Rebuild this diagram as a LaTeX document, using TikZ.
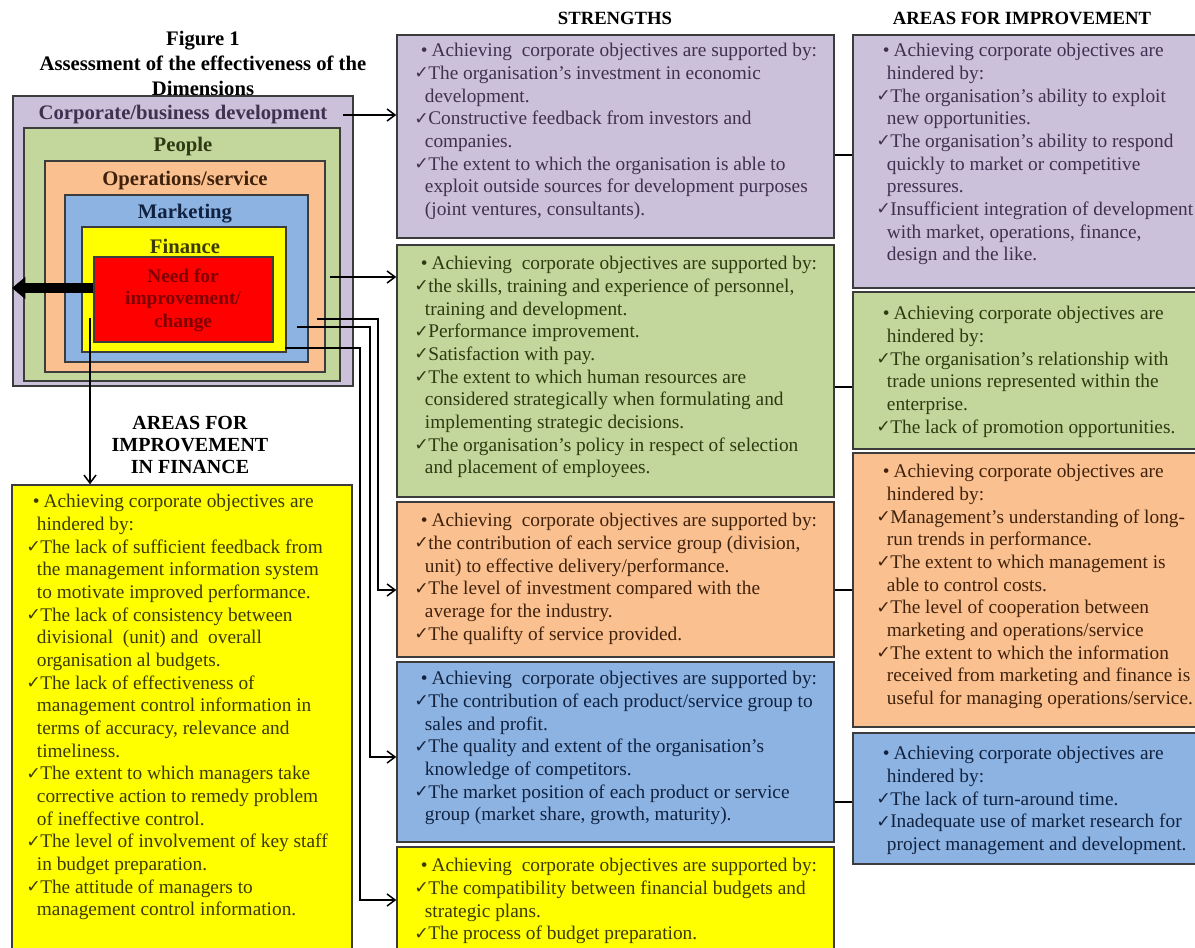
\documentclass[tikz,border=0pt]{standalone}
\usepackage{fontspec}
\setmainfont{Liberation Serif}
\newfontfamily\symfont{DejaVu Sans}
\usepackage{xcolor}
\usetikzlibrary{arrows.meta,fit}

\definecolor{edge}{HTML}{3C3C3C}
\definecolor{lavfill}{HTML}{CCC1DA}
\definecolor{grnfill}{HTML}{C3D69B}
\definecolor{orgfill}{HTML}{FAC090}
\definecolor{blufill}{HTML}{8DB3E2}
\definecolor{yelfill}{HTML}{FFFF00}
\definecolor{redfill}{HTML}{FF0000}
\definecolor{lavtext}{HTML}{3F3151}
\definecolor{grntext}{HTML}{2E3A12}
\definecolor{orgtext}{HTML}{40220C}
\definecolor{blutext}{HTML}{112240}
\definecolor{yeltext}{HTML}{3B3B00}
\definecolor{redtext}{HTML}{7F0000}

\newcommand{\bul}{\hspace*{5pt}\makebox[8pt][l]{•}}
\newcommand{\chk}{\makebox[10.5pt][l]{\raisebox{0.5pt}{\symfont\fontsize{13}{13}\selectfont ✓}}}
\newcommand{\cnt}{\hspace*{8pt}}

\begin{document}
\begin{tikzpicture}[x=0.75pt, y=-0.75pt,
  box/.style={draw=edge, line width=1.1pt, inner sep=0pt},
  body/.style={anchor=north west, inner sep=0pt, align=left, font=\fontsize{14.5}{17}\selectfont},
  lbl/.style={inner sep=0pt, font=\bfseries\fontsize{15.5}{18}\selectfont},
  hdr/.style={inner sep=0pt, align=center, font=\bfseries\fontsize{14}{16}\selectfont},
  arr/.style={-{Straight Barb[length=6pt,width=9pt]}, line width=1.1pt},
  link/.style={line width=1.1pt},
  fat/.style={-{Triangle[length=10pt,width=16pt]}, line width=8pt}]

\clip (0,0) rectangle (1195,948);

\node[hdr, font=\bfseries\fontsize{15.5}{18.75}\selectfont] (title) at (203,63) {Figure 1\\Assessment of the effectiveness of the\\Dimensions};
\node[hdr] (hstr) at (615,18) {STRENGTHS};
\node[hdr] (himp) at (1022,18) {AREAS FOR IMPROVEMENT};

\node[box, fill=lavfill, fit={(13,96) (353,386)}] (corp) {};
\node[box, fill=grnfill, fit={(24,128) (340,381)}] (peop) {};
\node[box, fill=orgfill, fit={(45,161) (325,372)}] (oper) {};
\node[box, fill=blufill, fit={(65,195) (308,362)}] (mark) {};
\node[box, fill=yelfill, fit={(82,227) (286,352)}] (fin) {};
\node[box, fill=redfill, fit={(94,257) (273,342)}] (need) {};

\node[lbl, text=lavtext] (corpL) at (183,115) {Corporate/business development};
\node[lbl, text=grntext] (peopL) at (183,147) {People};
\node[lbl, text=orgtext] (operL) at (185,181) {Operations/service};
\node[lbl, text=blutext] (markL) at (185,214) {Marketing};
\node[lbl, text=yeltext] (finL) at (185,246) {Finance};
\node[hdr, text=redtext, font=\bfseries\fontsize{14.5}{17}\selectfont] (needL) at (183,300) {Need for\\improvement/\\change};

\node[hdr, font=\bfseries\fontsize{15}{16.5}\selectfont] (finH) at (190,445) {AREAS FOR\\IMPROVEMENT\\IN FINANCE};

\node[box, fill=lavfill, fit={(397,35) (834,238)}] (purpS) {};
\node[box, fill=grnfill, fit={(397,245) (834,497)}] (peopS) {};
\node[box, fill=orgfill, fit={(397,502) (834,657)}] (operS) {};
\node[box, fill=blufill, fit={(397,662) (834,842)}] (markS) {};
\node[box, fill=yelfill, fit={(397,847) (834,955)}] (finS) {};

\node[box, fill=lavfill, fit={(853,35) (1202,288)}] (purpA) {};
\node[box, fill=grnfill, fit={(853,292) (1202,449)}] (peopA) {};
\node[box, fill=orgfill, fit={(853,453) (1202,727)}] (operA) {};
\node[box, fill=blufill, fit={(853,733) (1202,864)}] (markA) {};
\node[box, fill=yelfill, fit={(12,485) (352,955)}] (finA) {};

\node[body, text=lavtext] (purpST) at (414,43) {\bul Achieving~ corporate objectives are supported by:\\
\chk The organisation’s investment in economic\\
\cnt development.\\
\chk Constructive feedback from investors and\\
\cnt companies.\\
\chk The extent to which the organisation is able to\\
\cnt exploit outside sources for development purposes\\
\cnt (joint ventures, consultants).};

\node[body, text=lavtext] (purpAT) at (876,43) {\bul Achieving corporate objectives are\\
\cnt hindered by:\\
\chk The organisation’s ability to exploit\\
\cnt new opportunities.\\
\chk The organisation’s ability to respond\\
\cnt quickly to market or competitive\\
\cnt pressures.\\
\chk Insufficient integration of development\\
\cnt with market, operations, finance,\\
\cnt design and the like.};

\node[body, text=grntext] (peopST) at (414,256) {\bul Achieving~ corporate objectives are supported by:\\
\chk the skills, training and experience of personnel,\\
\cnt training and development.\\
\chk Performance improvement.\\
\chk Satisfaction with pay.\\
\chk The extent to which human resources are\\
\cnt considered strategically when formulating and\\
\cnt implementing strategic decisions.\\
\chk The organisation’s policy in respect of selection\\
\cnt and placement of employees.};

\node[body, text=grntext] (peopAT) at (876,306) {\bul Achieving corporate objectives are\\
\cnt hindered by:\\
\chk The organisation’s relationship with\\
\cnt trade unions represented within the\\
\cnt enterprise.\\
\chk The lack of promotion opportunities.};

\node[body, text=orgtext] (operST) at (414,513) {\bul Achieving~ corporate objectives are supported by:\\
\chk the contribution of each service group (division,\\
\cnt unit) to effective delivery/performance.\\
\chk The level of investment compared with the\\
\cnt average for the industry.\\
\chk The qualifty of service provided.};

\node[body, text=orgtext] (operAT) at (876,464) {\bul Achieving corporate objectives are\\
\cnt hindered by:\\
\chk Management’s understanding of long-\\
\cnt run trends in performance.\\
\chk The extent to which management is\\
\cnt able to control costs.\\
\chk The level of cooperation between\\
\cnt marketing and operations/service\\
\chk The extent to which the information\\
\cnt received from marketing and finance is\\
\cnt useful for managing operations/service.};

\node[body, text=blutext] (markST) at (414,671) {\bul Achieving~ corporate objectives are supported by:\\
\chk The contribution of each product/service group to\\
\cnt sales and profit.\\
\chk The quality and extent of the organisation’s\\
\cnt knowledge of competitors.\\
\chk The market position of each product or service\\
\cnt group (market share, growth, maturity).};

\node[body, text=blutext] (markAT) at (876,746) {\bul Achieving corporate objectives are\\
\cnt hindered by:\\
\chk The lack of turn-around time.\\
\chk Inadequate use of market research for\\
\cnt project management and development.};

\node[body, text=yeltext] (finST) at (414,858) {\bul Achieving~ corporate objectives are supported by:\\
\chk The compatibility between financial budgets and\\
\cnt strategic plans.\\
\chk The process of budget preparation.};

\node[body, text=yeltext] (finAT) at (26,494) {\bul Achieving corporate objectives are\\
\cnt hindered by:\\
\chk The lack of sufficient feedback from\\
\cnt the management information system\\
\cnt to motivate improved performance.\\
\chk The lack of consistency between\\
\cnt divisional~ (unit) and~ overall\\
\cnt organisation al budgets.\\
\chk The lack of effectiveness of\\
\cnt management control information in\\
\cnt terms of accuracy, relevance and\\
\cnt timeliness.\\
\chk The extent to which managers take\\
\cnt corrective action to remedy problem\\
\cnt of ineffective control.\\
\chk The level of involvement of key staff\\
\cnt in budget preparation.\\
\chk The attitude of managers to\\
\cnt management control information.};

\coordinate (c1) at (343,115);
\coordinate (p1) at (330,277);
\coordinate (o1) at (317,319);
\coordinate (o2) at (378,590);
\coordinate (m1) at (297,327);
\coordinate (m2) at (370,757);
\coordinate (f1) at (285,348);
\coordinate (f2) at (360,900);
\coordinate (r1) at (90,318);
\coordinate (t1) at (12,288);

\draw[fat] (t1 -| need.west) -- (t1);
\draw[arr] (c1) -- (c1 -| purpS.west);
\draw[arr] (p1) -- (p1 -| peopS.west);
\draw[arr] (o1) -| (o2) -- (o2 -| operS.west);
\draw[arr] (m1) -| (m2) -- (m2 -| markS.west);
\draw[arr] (f1) -| (f2) -- (f2 -| finS.west);
\draw[arr] (r1) -- (r1 |- finA.north);

\draw[link] (purpS.east |- 0,155) -- (purpA.west |- 0,155);
\draw[link] (peopS.east |- 0,387) -- (peopA.west |- 0,387);
\draw[link] (operS.east |- 0,590) -- (operA.west |- 0,590);
\draw[link] (markS.east |- 0,802) -- (markA.west |- 0,802);

\end{tikzpicture}
\end{document}
